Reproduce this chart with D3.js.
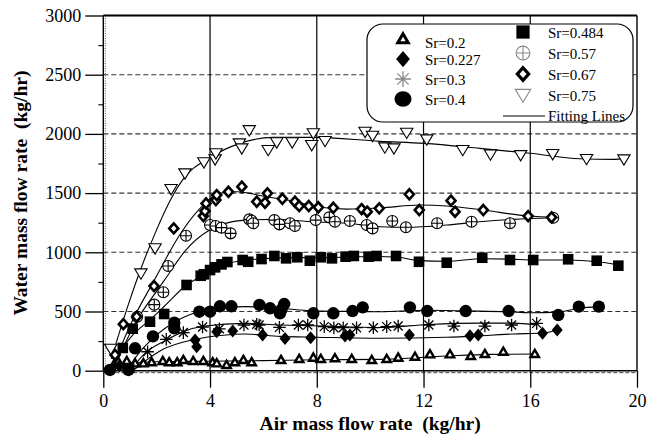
<!DOCTYPE html>
<html>
<head>
<meta charset="utf-8">
<script src="https://cdn.jsdelivr.net/npm/d3@7"></script>
<style>
  body { margin: 0; background: #fff; }
  text { font-family: "Liberation Serif", "Times New Roman", serif; }
</style>
</head>
<body>
<svg id="chart"></svg>
<script>
// measured points [air kg/hr, water kg/hr]
const pts020 = [[0.45,70],[0.56,76],[0.88,82],[1.19,62],[1.5,62],[1.81,71],[2.23,82],[2.47,71],[2.77,71],[3.0,90],[3.37,82],[3.75,82],[4.1,71],[4.25,62],[4.62,48],[4.93,71],[5.25,90],[5.56,71],[6.66,90],[7.34,99],[7.87,110],[8.15,99],[8.68,105],[9.31,99],[10.06,90],[10.62,99],[11.05,110],[11.68,118],[12.24,138],[12.99,138],[13.77,124],[14.3,141],[14.99,160],[16.17,141]];
const pts0227 = [[0.6,40],[3.44,259],[3.5,203],[4.25,329],[4.85,335],[5.97,301],[6.81,273],[7.77,279],[9.06,293],[9.24,301],[11.47,301],[13.74,296],[14.05,301],[16.46,316],[17.01,344]];
const pts030 = [[1.0,20],[1.66,160],[2.36,265],[3.0,322],[3.72,369],[4.35,354],[5.27,386],[5.75,392],[5.84,386],[6.6,366],[7.31,386],[7.66,386],[8.28,372],[8.64,363],[8.99,363],[9.49,363],[10.12,363],[10.62,372],[11.05,377],[12.2,386],[13.14,377],[14.3,377],[15.3,386],[16.24,400]];
const pts040 = [[0.25,6],[0.94,6],[1.19,189],[1.86,290],[2.66,405],[2.66,358],[3.6,498],[4.0,498],[4.37,544],[4.8,544],[5.85,555],[6.25,527],[6.62,485],[6.68,518],[6.78,563],[7.87,485],[8.62,485],[9.34,504],[9.72,535],[11.49,535],[12.14,504],[13.58,504],[15.19,504],[17.05,470],[17.82,541],[18.57,541]];
const pts0484 = [[0.73,192],[1.1,355],[1.75,414],[2.28,479],[3.12,724],[3.65,802],[3.77,814],[4.0,850],[4.19,873],[4.43,898],[4.65,918],[5.22,935],[5.43,920],[5.93,943],[6.41,969],[6.85,949],[7.27,958],[7.74,929],[8.15,958],[8.57,949],[9.08,963],[9.39,969],[9.94,963],[10.24,969],[10.97,969],[11.83,920],[12.87,912],[14.2,954],[15.24,935],[16.11,935],[17.42,941],[18.49,929],[19.3,887]];
const pts057 = [[1.27,456],[1.91,558],[2.25,662],[2.43,884],[3.1,1140],[4.0,1230],[4.21,1222],[4.43,1208],[4.77,1160],[5.47,1278],[5.56,1267],[5.62,1245],[6.41,1272],[6.6,1236],[7.0,1245],[7.18,1222],[7.96,1272],[8.47,1295],[8.68,1258],[9.24,1264],[9.87,1230],[10.09,1202],[10.83,1264],[11.34,1211],[12.51,1245],[13.8,1258],[15.24,1245],[16.86,1292]];
const pts067 = [[0.44,133],[0.75,393],[1.25,456],[1.9,715],[2.64,1202],[3.75,1306],[3.81,1348],[3.85,1413],[4.22,1441],[4.25,1483],[4.69,1511],[5.19,1554],[5.75,1427],[6.06,1419],[6.15,1498],[6.71,1452],[7.18,1427],[7.34,1391],[7.7,1391],[8.06,1380],[8.62,1376],[9.68,1365],[9.89,1343],[10.34,1371],[11.47,1490],[11.84,1357],[13.03,1436],[13.18,1343],[14.24,1357],[15.92,1306],[16.8,1295]];
const pts075 = [[0.28,185],[1.41,822],[1.94,1034],[2.54,1534],[3.06,1667],[3.77,1760],[4.19,1785],[4.22,1836],[5.1,1920],[5.19,1878],[5.47,2032],[6.18,1864],[6.5,1929],[7.08,1929],[7.81,1906],[7.87,2005],[8.31,1940],[9.81,2018],[10.09,1984],[10.55,1886],[10.89,1878],[11.37,2010],[12.12,1954],[13.47,1864],[14.51,1827],[15.64,1821],[16.84,1830],[18.11,1788],[19.51,1785]];

// fitting lines
const fit020 = [[0.3,20],[1.0,65],[2.0,75],[4.0,80],[6.0,85],[8.0,92],[10.37,96],[12.87,124],[14.5,138],[16.17,141]];
const fit0227 = [[1.1,0],[2.19,175],[3.44,265],[4.5,300],[5.31,310],[6.62,290],[8.0,283],[10.37,274],[12.87,282],[14.5,300],[15.36,310],[16.46,318],[17.01,344]];
const fit030 = [[1.0,0],[1.56,147],[2.34,256],[3.0,330],[3.81,377],[5.31,400],[6.62,386],[7.87,380],[10.37,365],[12.18,390],[14.11,402],[15.36,402],[16.24,386]];
const fit040 = [[0.9,0],[1.06,62],[1.87,276],[2.69,414],[3.56,498],[4.06,527],[5.31,541],[6.5,530],[7.87,505],[9.5,500],[10.37,498],[12.05,510],[13.6,505],[15.19,498],[15.99,490],[17.05,495],[17.82,527],[18.57,541]];
const fit0484 = [[0.45,100],[0.71,189],[1.1,300],[1.75,430],[2.27,540],[3.12,724],[3.77,810],[4.19,865],[4.65,905],[5.22,930],[5.93,945],[7.0,955],[8.15,955],[9.39,962],[10.24,965],[10.97,960],[11.83,930],[12.87,925],[14.2,945],[15.24,942],[16.11,935],[17.42,935],[18.49,920],[19.3,895]];
const fit057 = [[0.55,100],[1.27,430],[1.9,640],[2.4,800],[3.06,1010],[4.0,1190],[4.5,1240],[5.37,1272],[6.37,1278],[7.87,1258],[9.12,1245],[10.37,1216],[11.34,1211],[12.87,1230],[14.11,1258],[15.36,1278],[16.86,1292]];
const fit067 = [[0.4,60],[1.0,380],[1.9,760],[2.94,1174],[3.81,1413],[4.31,1498],[5.0,1512],[6.12,1469],[7.25,1427],[8.12,1380],[9.12,1365],[10.37,1375],[11.87,1399],[12.87,1391],[14.24,1357],[15.92,1306],[16.99,1295]];
const fit075 = [[0.3,100],[0.94,560],[1.44,880],[1.94,1160],[2.56,1460],[3.0,1620],[4.0,1800],[5.12,1920],[6.37,1971],[7.87,1971],[10.37,1937],[12.03,1920],[14.11,1878],[15.99,1836],[17.86,1790],[19.11,1785],[19.55,1793]];

const seriesNames = ["Sr=0.2","Sr=0.227","Sr=0.3","Sr=0.4","Sr=0.484","Sr=0.57","Sr=0.67","Sr=0.75"];
const seriesPts = [pts020, pts0227, pts030, pts040, pts0484, pts057, pts067, pts075];
const seriesFit = [fit020, fit0227, fit030, fit040, fit0484, fit057, fit067, fit075];
const seriesSym = ["triUp","diamond","star","circle","square","oplus","diamondOpen","triDown"];

const xTicks = [0, 4, 8, 12, 16, 20];
const yTicks = [0, 500, 1000, 1500, 2000, 2500, 3000];
const yMinor = [250, 750, 1250, 1750, 2250, 2750];

const W = 659, H = 434;
const margin = { top: 15.5, right: 22, bottom: 63.3, left: 103.3 };
const width = W - margin.left - margin.right;
const height = H - margin.top - margin.bottom;
const serif = "'Liberation Serif', 'Times New Roman', serif";

const svg = d3.select("#chart").attr("width", W).attr("height", H);
const g = svg.append("g").attr("transform", `translate(${margin.left},${margin.top})`);

const x = d3.scaleLinear().domain([0, 20]).range([0, width]);
const y = d3.scaleLinear().domain([0, 3000]).range([height, 0]);

// dashed horizontal grid
g.selectAll(".hgrid")
  .data(yTicks.filter(d => d > 0 && d < 3000))
  .join("line")
    .attr("x1", 0).attr("x2", width)
    .attr("y1", d => y(d)).attr("y2", d => y(d))
    .attr("stroke", "#333").attr("stroke-width", 1.1)
    .attr("stroke-dasharray", "5,3");
g.append("line")
  .attr("x1", 0).attr("x2", width)
  .attr("y1", y(0) + 2).attr("y2", y(0) + 2)
  .attr("stroke", "#444").attr("stroke-width", 1)
  .attr("stroke-dasharray", "4,2");

// solid vertical grid
g.selectAll(".vgrid")
  .data(xTicks.filter(d => d > 0 && d < 20))
  .join("line")
    .attr("x1", d => x(d)).attr("x2", d => x(d))
    .attr("y1", 0).attr("y2", height)
    .attr("stroke", "#000").attr("stroke-width", 1.2);

// dotted line beside y axis
g.append("line")
  .attr("x1", 2).attr("x2", 2).attr("y1", 0).attr("y2", height)
  .attr("stroke", "#555").attr("stroke-width", 1).attr("stroke-dasharray", "1,1.5");

// x axis
const xAxis = g.append("g")
  .attr("transform", `translate(0,${height})`)
  .call(d3.axisBottom(x).tickValues(xTicks).tickSize(17).tickPadding(7).tickFormat(d3.format("d")));
xAxis.select(".domain").remove();
xAxis.selectAll("line").attr("stroke", "#000").attr("stroke-width", 1.3);
xAxis.selectAll("text").style("font-size", "18px").attr("fill", "#000")
  .style("font-family", serif);

// y axis
const yAxis = g.append("g")
  .call(d3.axisLeft(y).tickValues(yTicks).tickSize(18).tickPadding(4).tickFormat(d3.format("d")));
yAxis.select(".domain").remove();
yAxis.selectAll("line").attr("stroke", "#000").attr("stroke-width", 1.3);
yAxis.selectAll("text").style("font-size", "18px").attr("fill", "#000")
  .style("font-family", serif);

const yAxisMinor = g.append("g")
  .call(d3.axisLeft(y).tickValues(yMinor).tickSize(5).tickFormat(""));
yAxisMinor.select(".domain").remove();
yAxisMinor.selectAll("line").attr("stroke", "#000").attr("stroke-width", 1.1);

// frame
g.append("line").attr("x1", 0).attr("x2", 0).attr("y1", 0).attr("y2", height)
  .attr("stroke", "#000").attr("stroke-width", 1.4);
g.append("line").attr("x1", 0).attr("x2", width).attr("y1", height).attr("y2", height)
  .attr("stroke", "#000").attr("stroke-width", 1.4);
g.append("line").attr("x1", width).attr("x2", width).attr("y1", 0).attr("y2", height)
  .attr("stroke", "#000").attr("stroke-width", 1.4);
g.append("line").attr("x1", 0).attr("x2", width).attr("y1", 0).attr("y2", 0)
  .attr("stroke", "#000").attr("stroke-width", 2.2);

// symbol drawing
function drawSymbol(sel, type, s, col) {
  col = col || "#000";
  if (type === "triUp") {
    sel.append("path").attr("d", `M0,${-4.2*s}L${4.2*s},${3*s}L${-4.2*s},${3*s}Z`)
      .attr("fill", "#fff").attr("stroke", col).attr("stroke-width", 2.4 * s)
      .attr("stroke-linejoin", "miter");
  } else if (type === "diamond") {
    sel.append("path").attr("d", `M0,${-6.5*s}L${5.5*s},0L0,${6.5*s}L${-5.5*s},0Z`).attr("fill", col);
  } else if (type === "star") {
    const r = 6.3 * s, a = 4.5 * s;
    sel.append("path")
      .attr("d", `M${-r},0L${r},0M0,${-r}L0,${r}M${-a},${-a}L${a},${a}M${-a},${a}L${a},${-a}`)
      .attr("stroke", col).attr("stroke-width", 1.3).attr("fill", "none");
  } else if (type === "circle") {
    sel.append("ellipse").attr("rx", 6.2 * s * (s > 1 ? 1.1 : 1)).attr("ry", 6.2 * s).attr("fill", col);
  } else if (type === "square") {
    sel.append("rect").attr("x", -5.3 * s).attr("y", -5.3 * s)
      .attr("width", 10.6 * s).attr("height", 10.6 * s).attr("fill", col);
  } else if (type === "oplus") {
    const r = 5.5 * s;
    sel.append("circle").attr("r", r).attr("fill", "#fff").attr("stroke", col).attr("stroke-width", 1.1);
    sel.append("path").attr("d", `M${-r},0L${r},0M0,${-r}L0,${r}`)
      .attr("stroke", col).attr("stroke-width", 1.1);
  } else if (type === "diamondOpen") {
    sel.append("path").attr("d", `M0,${-5*s}L${4.5*s},0L0,${5*s}L${-4.5*s},0Z`)
      .attr("fill", "#fff").attr("stroke", col).attr("stroke-width", 2.6 * s);
  } else if (type === "triDown") {
    const w = 6.2 * s;
    sel.append("path").attr("d", `M${-w},${-4.5*s}L${w},${-4.5*s}L0,${5.8*s}Z`)
      .attr("fill", "#fff").attr("stroke", col).attr("stroke-width", 1.1);
  }
}

// fitting lines
const line = d3.line()
  .x(d => x(d[0])).y(d => y(d[1]))
  .curve(d3.curveMonotoneX);

g.selectAll(".fit")
  .data(seriesFit)
  .join("path")
    .attr("class", "fit")
    .attr("d", line)
    .attr("fill", "none")
    .attr("stroke", "#000")
    .attr("stroke-width", 1.1);

// markers
seriesPts.forEach((pts, i) => {
  g.selectAll(".m" + i)
    .data(pts)
    .join("g")
      .attr("class", "m" + i)
      .attr("transform", d => `translate(${x(d[0])},${y(d[1])})`)
      .each(function() { drawSymbol(d3.select(this), seriesSym[i], 1); });
});

// legend
const leg = svg.append("g");
leg.append("rect")
  .attr("x", 367).attr("y", 24).attr("width", 266).attr("height", 98)
  .attr("rx", 16).attr("ry", 16)
  .attr("fill", "#fff").attr("stroke", "#000").attr("stroke-width", 1.2);

const legCols = [
  { sx: 403, tx: 425, ys: [43, 60, 80, 100] },
  { sx: 523, tx: 548, ys: [33, 54, 75, 96] }
];
const legGray = { star: "#888", oplus: "#888", triDown: "#888" };
seriesNames.forEach((name, i) => {
  const c = legCols[i < 4 ? 0 : 1];
  const yy = c.ys[i % 4];
  const sy = i === 0 ? yy - 4 : yy - 1;
  const sg = leg.append("g").attr("transform", `translate(${c.sx},${sy})`);
  drawSymbol(sg, seriesSym[i], 1.25, legGray[seriesSym[i]]);
  leg.append("text")
    .attr("x", c.tx).attr("y", yy)
    .attr("dy", "0.35em")
    .style("font-size", "15px")
    .text(name);
});
leg.append("line")
  .attr("x1", 503).attr("x2", 545).attr("y1", 116).attr("y2", 116)
  .attr("stroke", "#000").attr("stroke-width", 1);
leg.append("text")
  .attr("x", 548).attr("y", 116).attr("dy", "0.35em")
  .style("font-size", "15px")
  .text("Fitting Lines");

// axis titles
svg.append("text")
  .attr("text-anchor", "middle")
  .attr("font-weight", "bold")
  .style("font-size", "19.5px")
  .attr("x", margin.left + width / 2)
  .attr("y", 430)
  .text("Air mass flow rate\u00A0\u00A0(kg/hr)");

svg.append("text")
  .attr("text-anchor", "middle")
  .attr("font-weight", "bold")
  .style("font-size", "19.5px")
  .attr("transform", `translate(27,${margin.top + height / 2}) rotate(-90)`)
  .text("Water mass flow rate\u00A0\u00A0(kg/hr)");
</script>
</body>
</html>
